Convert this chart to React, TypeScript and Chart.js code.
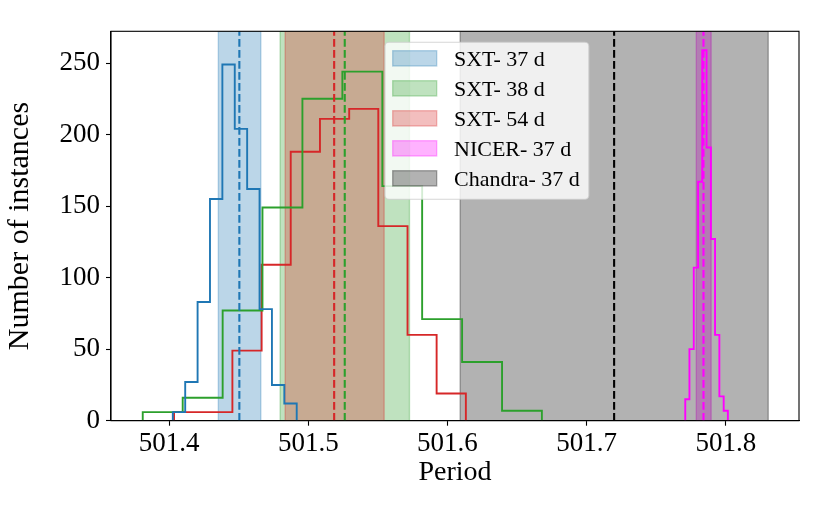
import React, { useEffect, useRef } from "react";
import { Chart, registerables } from "chart.js";

Chart.register(...registerables);

// ---- Data ----
const sxt37Edges = [501.4027, 501.4116, 501.4205, 501.4294, 501.4383, 501.4472, 501.4561, 501.4650, 501.4739, 501.4828, 501.4917];
const sxt37Counts = [6, 27, 83, 155, 249, 204, 162, 78, 25, 12];

const sxt38Edges = [501.3811, 501.4098, 501.4385, 501.4671, 501.4958, 501.5245, 501.5532, 501.5818, 501.6105, 501.6392, 501.6678];
const sxt38Counts = [6, 16, 77, 149, 225, 244, 164, 71, 41, 7];

const sxt54Edges = [501.4036, 501.4246, 501.4455, 501.4665, 501.4874, 501.5084, 501.5294, 501.5503, 501.5713, 501.5922, 501.6132];
const sxt54Counts = [6, 6, 49, 109, 188, 211, 218, 136, 60, 19];

const nicer37Edges = [501.7708, 501.7738, 501.7769, 501.7800, 501.7830, 501.7861, 501.7892, 501.7922, 501.7953, 501.7984, 501.8014];
const nicer37Counts = [15, 50, 107, 167, 259, 191, 127, 60, 17, 7];

const spanLabels = ["SXT- 37 d", "SXT- 38 d", "SXT- 54 d", "NICER- 37 d", "Chandra- 37 d"];
const spanStarts = [501.4354, 501.4798, 501.4834, 501.7787, 501.6091];
const spanEnds = [501.4659, 501.5727, 501.5545, 501.7894, 501.8304];
const meanValues = [501.4505, 501.5262, 501.5186, 501.7839, 501.7197];

const xTicks = [501.4, 501.5, 501.6, 501.7, 501.8];
const yTicks = [0, 50, 100, 150, 200, 250];
const xRange = [501.3583, 501.8525];
const yRange = [0, 272.2];

// ---- Styles ----
const spanRGB = ["31,119,180", "44,160,44", "214,39,40", "255,0,255", "0,0,0"];
const histColors = ["#1f77b4", "#2ca02c", "#d62728", "#ff00ff"];
const FONT = "'Liberation Serif', 'Times New Roman', serif";

function stepPoints(edges: number[], counts: number[]) {
  const pts = [{ x: edges[0], y: 0 }];
  counts.forEach((c, i) => pts.push({ x: edges[i], y: c }));
  pts.push({ x: edges[edges.length - 1], y: 0 });
  return pts;
}

const overlayPlugin = {
  id: "overlay",
  beforeDatasetsDraw(chart: any) {
    const { ctx, chartArea: a, scales } = chart;
    const xs = scales.x;
    ctx.save();
    ctx.beginPath();
    ctx.rect(a.left, a.top, a.right - a.left, a.bottom - a.top);
    ctx.clip();
    spanStarts.forEach((s, i) => {
      const x0 = xs.getPixelForValue(s);
      const x1 = xs.getPixelForValue(spanEnds[i]);
      ctx.fillStyle = `rgba(${spanRGB[i]},0.3)`;
      ctx.fillRect(x0, a.top, x1 - x0, a.bottom - a.top);
      ctx.strokeStyle = `rgba(${spanRGB[i]},0.3)`;
      ctx.lineWidth = 1.4;
      ctx.strokeRect(x0, a.top, x1 - x0, a.bottom - a.top);
    });
    ctx.restore();
  },
  afterDatasetsDraw(chart: any) {
    const { ctx, chartArea: a, scales } = chart;
    const xs = scales.x;
    ctx.save();
    // dashed mean lines
    const meanColors = ["#1f77b4", "#2ca02c", "#d62728", "#ff00ff", "#000000"];
    meanValues.forEach((m, i) => {
      const x = xs.getPixelForValue(m);
      ctx.strokeStyle = meanColors[i];
      ctx.lineWidth = 2.1;
      ctx.setLineDash([7.7, 3.3]);
      ctx.beginPath();
      ctx.moveTo(x, a.bottom);
      ctx.lineTo(x, a.top);
      ctx.stroke();
    });
    ctx.setLineDash([]);
    // axes frame
    ctx.strokeStyle = "#000";
    ctx.lineWidth = 1.1;
    ctx.strokeRect(a.left, a.top, a.right - a.left, a.bottom - a.top);

    // legend
    const fs = 22;
    ctx.font = `${fs}px ${FONT}`;
    const textW = Math.max(...spanLabels.map((l) => ctx.measureText(l).width));
    const bx = a.left + 274;
    const by = a.top + 11;
    const patchX = bx + 7.7;
    const textX = bx + 69;
    const bw = textX - bx + textW + 9;
    const rowH = 30;
    const bh = 157;
    ctx.beginPath();
    ctx.roundRect(bx, by, bw, bh, 4);
    ctx.fillStyle = "rgba(255,255,255,0.8)";
    ctx.fill();
    ctx.strokeStyle = "rgba(204,204,204,0.8)";
    ctx.lineWidth = 1.1;
    ctx.stroke();
    spanLabels.forEach((label, i) => {
      const py = by + 8.4 + i * rowH;
      ctx.fillStyle = `rgba(${spanRGB[i]},0.3)`;
      ctx.fillRect(patchX, py, 44, 15.3);
      ctx.strokeStyle = `rgba(${spanRGB[i]},0.3)`;
      ctx.lineWidth = 1.4;
      ctx.strokeRect(patchX, py, 44, 15.3);
      ctx.fillStyle = "#000";
      ctx.textAlign = "left";
      ctx.textBaseline = "alphabetic";
      ctx.fillText(label, textX, py + 15.6);
    });
    ctx.restore();
  },
};

export default function App() {
  const ref = useRef<HTMLCanvasElement>(null);
  useEffect(() => {
    document.body.style.margin = "0";
    const canvas = ref.current!;
    const histData = [
      [sxt37Edges, sxt37Counts],
      [sxt38Edges, sxt38Counts],
      [sxt54Edges, sxt54Counts],
      [nicer37Edges, nicer37Counts],
    ];
    const chart = new Chart(canvas, {
      type: "line",
      data: {
        datasets: histData.map(([e, c], i) => ({
          label: spanLabels[i],
          data: stepPoints(e as number[], c as number[]),
          borderColor: histColors[i],
          borderWidth: 1.9,
          pointRadius: 0,
          fill: false,
          stepped: "before" as const,
        })),
      },
      options: {
        animation: false,
        responsive: false,
        devicePixelRatio: window.devicePixelRatio || 1,
        layout: { padding: { left: 0, right: 31, top: 31.3, bottom: 0 } },
        plugins: { legend: { display: false }, tooltip: { enabled: false } },
        events: [],
        scales: {
          x: {
            type: "linear",
            min: xRange[0],
            max: xRange[1],
            afterBuildTicks: (s: any) => {
              s.ticks = xTicks.map((v) => ({ value: v }));
            },
            afterFit: (s: any) => {
              s.height = 98.3;
            },
            ticks: {
              color: "#000",
              font: { family: FONT, size: 27 },
              padding: 2,
              maxRotation: 0,
              autoSkip: false,
              callback: (v: any) => Number(v).toFixed(1),
            },
            grid: { drawOnChartArea: false, drawTicks: true, tickLength: 5, color: "#000", tickWidth: 1.1 },
            border: { display: true, color: "#000", width: 1.1 },
            title: {
              display: true,
              text: "Period",
              color: "#000",
              font: { family: FONT, size: 28 },
              padding: { top: 0, bottom: 30 },
            },
          },
          y: {
            type: "linear",
            min: yRange[0],
            max: yRange[1],
            afterBuildTicks: (s: any) => {
              s.ticks = yTicks.map((v) => ({ value: v }));
            },
            afterFit: (s: any) => {
              s.width = 111;
            },
            ticks: {
              color: "#000",
              font: { family: FONT, size: 27 },
              padding: 6,
              autoSkip: false,
              callback: (v: any) => String(Math.round(Number(v))),
            },
            grid: { drawOnChartArea: false, drawTicks: true, tickLength: 5, color: "#000", tickWidth: 1.1 },
            border: { display: true, color: "#000", width: 1.1 },
            title: {
              display: true,
              text: "Number of instances",
              color: "#000",
              font: { family: FONT, size: 30 },
              padding: { top: 2, bottom: 0 },
            },
          },
        },
      },
      plugins: [overlayPlugin],
    });
    return () => chart.destroy();
  }, []);
  return (
    <div style={{ position: "absolute", left: 0, top: 0, width: 830, height: 519 }}>
      <canvas ref={ref} width={830} height={519} style={{ width: 830, height: 519 }} />
    </div>
  );
}
